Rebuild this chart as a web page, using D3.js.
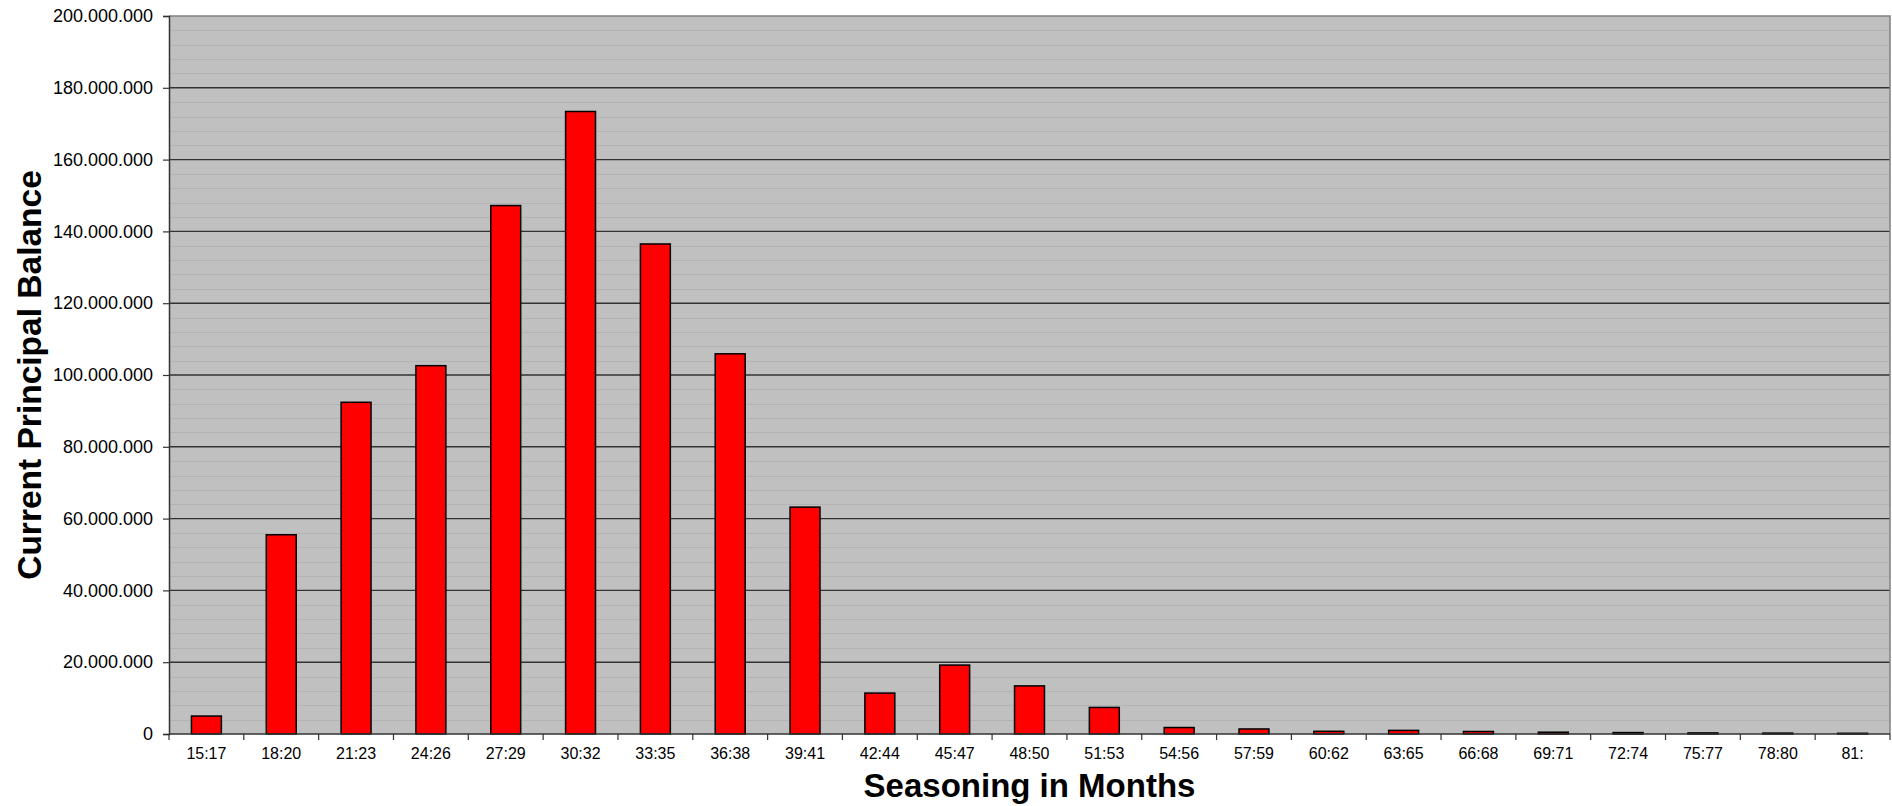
<!DOCTYPE html>
<html>
<head>
<meta charset="utf-8">
<script src="https://cdn.jsdelivr.net/npm/d3@7/dist/d3.min.js"></script>
<style>
  html, body { margin: 0; padding: 0; background: #ffffff; }
  svg { display: block; }
</style>
</head>
<body>
<svg id="chart" width="1892" height="806"></svg>
<script>
const categories = ["15:17","18:20","21:23","24:26","27:29","30:32","33:35","36:38","39:41","42:44","45:47","48:50","51:53","54:56","57:59","60:62","63:65","66:68","69:71","72:74","75:77","78:80","81:"];
const balances = [5.0e6, 55.5e6, 92.4e6, 102.6e6, 147.2e6, 173.4e6, 136.5e6, 105.9e6, 63.2e6, 11.4e6, 19.2e6, 13.4e6, 7.4e6, 1.8e6, 1.4e6, 0.75e6, 1.0e6, 0.7e6, 0.5e6, 0.4e6, 0.3e6, 0.25e6, 0.2e6];
const yTickValues = [0, 20e6, 40e6, 60e6, 80e6, 100e6, 120e6, 140e6, 160e6, 180e6, 200e6];
const yMinorValues = d3.range(0, 200e6 + 1, 4e6);
const xTitle = "Seasoning in Months";
const yTitle = "Current Principal Balance";

(function () {
const svg = d3.select("#chart");
const mLeft = 169, mRight = 1890, mTop = 16, mBottom = 734;

const band = d3.scaleBand().domain(categories).range([mLeft, mRight]).paddingInner(0).paddingOuter(0);
const x = d3.scaleBand().domain(categories).range([mLeft, mRight]).paddingInner(0.6).paddingOuter(0.3);
const y = d3.scaleLinear().domain([0, 200e6]).range([mBottom, mTop]);

const fmt = v => d3.format(",")(v).replace(/,/g, ".");

// plot background
svg.append("rect").attr("x", mLeft).attr("y", mTop).attr("width", mRight - mLeft).attr("height", mBottom - mTop)
  .attr("fill", "#c0c0c0");

// minor gridlines
svg.append("g").selectAll("line").data(yMinorValues.filter(v => v % 20e6 !== 0)).join("line")
  .attr("x1", mLeft).attr("x2", mRight)
  .attr("y1", d => Math.round(y(d)) + 0.5).attr("y2", d => Math.round(y(d)) + 0.5)
  .attr("stroke", "#b3b3b3").attr("stroke-width", 1);

// major gridlines
svg.append("g").selectAll("line").data(yTickValues.filter(v => v > 0 && v < 200e6)).join("line")
  .attr("x1", mLeft).attr("x2", mRight)
  .attr("y1", d => y(d)).attr("y2", d => y(d))
  .attr("stroke", "#333333").attr("stroke-width", 1.4);

// frame (top and right)
svg.append("path")
  .attr("d", `M${mLeft},${mTop}H${mRight}V${mBottom}`)
  .attr("fill", "none").attr("stroke", "#808080").attr("stroke-width", 1.5);

// bars
svg.append("g").selectAll("rect").data(categories).join("rect")
  .attr("x", d => x(d))
  .attr("width", x.bandwidth())
  .attr("y", (d, i) => y(balances[i]))
  .attr("height", (d, i) => y(0) - y(balances[i]))
  .attr("fill", "#ff0000")
  .attr("stroke", "#000000")
  .attr("stroke-width", 1.5);

// y axis
const yAxis = d3.axisLeft(y).tickValues(yTickValues).tickSize(6).tickPadding(10).tickFormat(fmt);
const gy = svg.append("g").attr("transform", `translate(${mLeft},0)`).call(yAxis);
gy.select(".domain").attr("stroke", "#333333").attr("stroke-width", 1.5);
gy.selectAll(".tick line").attr("stroke", "#333333").attr("stroke-width", 1.2);
gy.selectAll(".tick text").attr("font-family", "'Liberation Sans', Arial, sans-serif")
  .attr("font-size", 18).attr("fill", "#000");

// x axis
const boundaries = categories.map(c => band(c)).concat([mRight]);
const gx = svg.append("g");
gx.append("line").attr("x1", mLeft).attr("x2", mRight).attr("y1", mBottom).attr("y2", mBottom)
  .attr("stroke", "#333333").attr("stroke-width", 1.5);
gx.selectAll("line.tk").data(boundaries).join("line").attr("class", "tk")
  .attr("x1", d => d).attr("x2", d => d).attr("y1", mBottom).attr("y2", mBottom + 6)
  .attr("stroke", "#333333").attr("stroke-width", 1.2);
gx.selectAll("text").data(categories).join("text")
  .attr("x", d => band(d) + band.bandwidth() / 2)
  .attr("y", 759)
  .attr("text-anchor", "middle")
  .attr("font-family", "'Liberation Sans', Arial, sans-serif")
  .attr("font-size", 16)
  .attr("fill", "#000")
  .text(d => d);

// titles
svg.append("text").attr("x", (mLeft + mRight) / 2).attr("y", 797)
  .attr("text-anchor", "middle")
  .attr("font-family", "'Liberation Sans', Arial, sans-serif")
  .attr("font-weight", "bold").attr("font-size", 33).attr("fill", "#000")
  .text(xTitle);

svg.append("text")
  .attr("transform", `translate(41,${(mTop + mBottom) / 2}) rotate(-90)`)
  .attr("text-anchor", "middle")
  .attr("font-family", "'Liberation Sans', Arial, sans-serif")
  .attr("font-weight", "bold").attr("font-size", 33.5).attr("fill", "#000")
  .text(yTitle);
})();
</script>
</body>
</html>
